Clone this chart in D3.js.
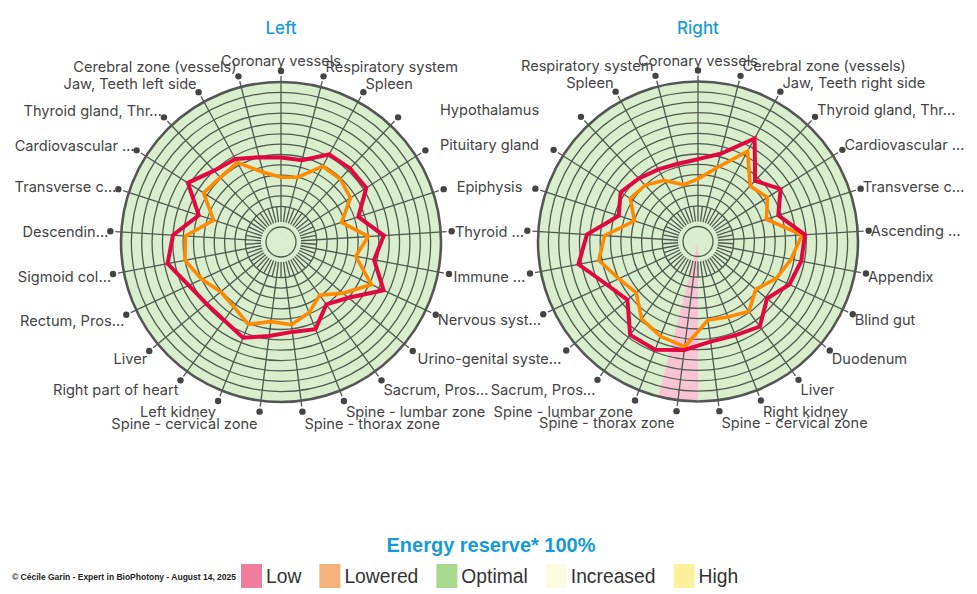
<!DOCTYPE html>
<html><head><meta charset="utf-8">
<script src="https://cdn.jsdelivr.net/npm/d3@7"></script>
<style>
html,body{margin:0;padding:0;background:#fff;}
svg{display:block;}
</style></head><body>
<svg id="chart" width="977" height="594"></svg>
<script>
// ---------- DATA ----------
const leftCategories = ["Coronary vessels","Respiratory system","Spleen","Hypothalamus","Pituitary gland","Epiphysis","Thyroid …","Immune …","Nervous syst…","Urino-genital syste…","Sacrum, Pros…","Spine - lumbar zone","Spine - thorax zone","Spine - cervical zone","Left kidney","Right part of heart","Liver","Rectum, Pros…","Sigmoid col…","Descendin…","Transverse c…","Cardiovascular …","Thyroid gland, Thr…","Jaw, Teeth left side","Cerebral zone (vessels)"];
const leftRed    = [6.7,6.7,8.2,8.3,8.3,6.4,8.5,7.7,9.5,7.0,6.0,7.6,7.3,7.7,8.5,7.9,7.9,8.4,9.7,9.0,6.9,9.2,8.0,7.7,7.0];
const leftOrange = [4.8,5.0,6.9,6.9,6.5,4.7,7.0,5.9,8.2,6.3,4.9,5.9,6.6,6.3,7.1,6.3,6.1,7.0,8.0,7.8,5.4,7.4,7.1,7.3,5.5];
const leftStatus = Array(25).fill("Optimal");

const rightCategories = ["Coronary vessels","Cerebral zone (vessels)","Jaw, Teeth right side","Thyroid gland, Thr…","Cardiovascular …","Transverse c…","Ascending …","Appendix","Blind gut","Duodenum","Liver","Right kidney","Spine - cervical zone","Spine - thorax zone","Spine - lumbar zone","Sacrum, Pros…","Urino-genital syste…","Nervous syst…","Immune …","Thyroid …","Epiphysis","Pituitary gland","Hypothalamus","Spleen","Respiratory system"];
const rightRed    = [6.5,7.3,9.9,6.6,8.0,6.7,8.9,8.7,8.3,7.2,8.7,8.3,8.3,9.1,9.8,9.7,7.4,8.3,10.3,9.3,6.6,7.4,6.9,6.5,6.3];
const rightOrange = [4.6,5.9,8.5,5.9,6.5,5.5,8.6,7.7,6.9,5.8,6.9,6.4,6.2,8.8,8.4,7.8,6.3,7.0,8.3,7.6,5.0,6.3,6.0,5.3,4.2];
const rightStatus = ["Optimal","Optimal","Optimal","Optimal","Optimal","Optimal","Optimal","Optimal","Optimal","Optimal","Optimal","Optimal","Optimal","Low","Optimal","Optimal","Optimal","Optimal","Optimal","Optimal","Optimal","Optimal","Optimal","Optimal","Optimal"];

const radialTicks = [0,2,3,4,5,6,7,8,9,10,11,12,13];
const legendLabels = ["Low","Lowered","Optimal","Increased","High"];
const legendColors = ["#f07ca0","#f6b27c","#a9d98f","#fdfbe0","#fdf09c"];
const mainTitle = "Energy reserve* 100%";
const copyright = "© Cécile Garin - Expert in BioPhotony - August 14, 2025";

// ---------- DRAW ----------
const svg = d3.select("#chart");
const R = 160, R0 = 15;
const rScale = d3.scaleLinear().domain([0,14]).range([R0,R]);
const statusColor = {};
legendLabels.forEach((l,i)=>statusColor[l]=legendColors[i]);
const labelFont = "Inter, 'Liberation Sans', Arial, sans-serif";
const labelSize = 14.6;
const gridColor = "#505a50";

const charts = [
  {title:"Left", cx:281, cy:242, cats:leftCategories, red:leftRed, orange:leftOrange, status:leftStatus},
  {title:"Right", cx:698, cy:241.5, cats:rightCategories, red:rightRed, orange:rightOrange, status:rightStatus}
];

const meas = svg.append("text").attr("font-family",labelFont).attr("font-size",labelSize).attr("opacity",0);
const textW = s => { meas.text(s); return meas.node().getComputedTextLength(); };

const labels = [];
charts.forEach((c,ci)=>{
  const n = c.cats.length;
  const aScale = d3.scaleLinear().domain([0,n]).range([0,2*Math.PI]);
  const half = Math.PI/n;
  const g = svg.append("g").attr("transform",`translate(${c.cx},${c.cy})`);

  const arc = d3.arc().innerRadius(0).outerRadius(R);
  g.selectAll("path.sector").data(c.status).join("path")
    .attr("d",(d,i)=>arc({startAngle:aScale(i)-half,endAngle:aScale(i)+half}))
    .attr("fill",d=>statusColor[d]).attr("fill-opacity",0.45).attr("stroke","none");

  g.selectAll("circle.ring").data(radialTicks).join("circle")
    .attr("r",d=>rScale(d)).attr("fill","none").attr("stroke",gridColor).attr("stroke-width",1.3);

  const pt = (a,r)=>[r*Math.sin(a), -r*Math.cos(a)];
  d3.range(n).forEach(i=>{
    const a = aScale(i);
    const p1 = pt(a,20), p2 = pt(a,R+6);
    g.append("line").attr("x1",p1[0]).attr("y1",p1[1]).attr("x2",p2[0]).attr("y2",p2[1])
      .attr("stroke",gridColor).attr("stroke-width",1.3);
    const b = a+half;
    const q1 = pt(b,20), q2 = pt(b,rScale(2));
    g.append("line").attr("x1",q1[0]).attr("y1",q1[1]).attr("x2",q2[0]).attr("y2",q2[1])
      .attr("stroke",gridColor).attr("stroke-width",1.3);
  });

  g.append("circle").attr("r",R).attr("fill","none").attr("stroke","#555").attr("stroke-width",2.6);

  const line = d3.lineRadial().angle((d,i)=>aScale(i)).radius(d=>rScale(d)).curve(d3.curveLinearClosed);
  g.append("path").attr("d",line(c.orange)).attr("fill","none").attr("stroke","#ff8a00")
    .attr("stroke-width",3.6).attr("stroke-linejoin","miter");
  g.append("path").attr("d",line(c.red)).attr("fill","none").attr("stroke","#e2073f")
    .attr("stroke-width",4).attr("stroke-linejoin","miter");

  c.cats.forEach((name,i)=>{
    const a = aScale(i);
    const [dx,dy] = pt(a,R+11);
    g.append("circle").attr("cx",dx).attr("cy",dy).attr("r",3.2).attr("fill","#444");
    const s = Math.sin(a);
    let anchor = "middle", x = dx;
    if (s > 0.01){ anchor="start"; x = dx + 2; }
    else if (s < -0.01){ anchor="end"; x = dx - 2; }
    let yc = dy + 1 - 11*Math.cos(a);
    if (Math.abs(s)<=0.01) yc = dy - 10;
    labels.push({name, chart:ci, anchor, x:x+c.cx, y:yc+c.cy, dotX:dx+c.cx, w:textW(name)});
  });

  svg.append("text").attr("x",c.cx).attr("y",28).attr("dy","0.36em").attr("text-anchor","middle")
    .attr("font-family",labelFont).attr("font-size",17).attr("font-weight",500)
    .attr("fill","#169bd8").text(c.title);
});

// labels between the two charts that coincide are shared and centred between the dots
labels.filter(l=>l.chart===0 && l.anchor==="start").forEach(l=>{
  const r = labels.find(m=>m.chart===1 && m.anchor==="end" && m.name===l.name && Math.abs(m.y-l.y)<6);
  if (r && (l.x + l.w) - (r.x - r.w) > 4){
    l.anchor = "middle"; l.x = (l.dotX + r.dotX)/2; l.y = (l.y + r.y)/2; r.hidden = true;
  }
});
labels.filter(l=>!l.hidden).forEach(l=>{
  svg.append("text").attr("x",l.x).attr("y",l.y).attr("dy","0.36em")
    .attr("text-anchor",l.anchor).attr("font-family",labelFont).attr("font-size",labelSize)
    .attr("fill","#444").text(l.name);
});
meas.remove();

svg.append("text").attr("x",491).attr("y",545).attr("dy","0.36em").attr("text-anchor","middle")
  .attr("font-family","'Liberation Sans', Arial, sans-serif").attr("font-size",20).attr("font-weight","bold")
  .attr("fill","#169bd8").text(mainTitle);

svg.append("text").attr("x",12).attr("y",577).attr("dy","0.36em")
  .attr("font-family","'Liberation Sans Narrow', 'Liberation Sans', Arial, sans-serif").attr("font-size",9.6).attr("font-weight","bold")
  .attr("fill","#222").attr("textLength",224).attr("lengthAdjust","spacingAndGlyphs").text(copyright);

let lx = 241;
legendLabels.forEach((l,i)=>{
  svg.append("rect").attr("x",lx).attr("y",564).attr("width",21).attr("height",24).attr("fill",legendColors[i]);
  const t = svg.append("text").attr("x",lx+25).attr("y",576).attr("dy","0.36em")
    .attr("font-family","'Liberation Sans', Arial, sans-serif").attr("font-size",19.3).attr("fill","#333").text(l);
  lx += 25 + t.node().getComputedTextLength() + 18;
});
</script>
</body></html>
